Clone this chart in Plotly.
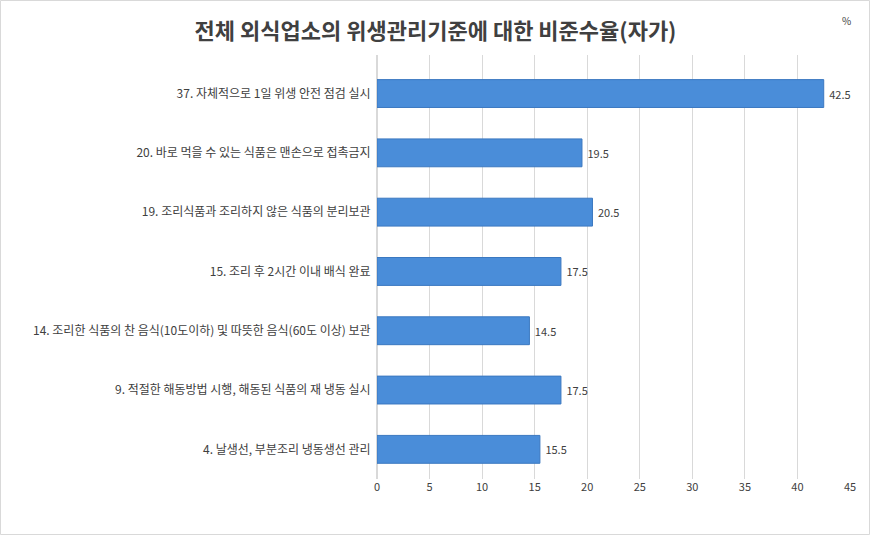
import plotly.graph_objects as go

categories = [
    "37. 자체적으로 1일 위생 안전 점검 실시",
    "20. 바로 먹을 수 있는 식품은 맨손으로 접촉금지",
    "19. 조리식품과 조리하지 않은 식품의 분리보관",
    "15. 조리 후 2시간 이내 배식 완료",
    "14. 조리한 식품의 찬 음식(10도이하) 및 따뜻한 음식(60도 이상) 보관",
    "9. 적절한 해동방법 시행, 해동된 식품의 재 냉동 실시",
    "4. 날생선, 부분조리 냉동생선 관리",
]
values = [42.5, 19.5, 20.5, 17.5, 14.5, 17.5, 15.5]
x_ticks = [0, 5, 10, 15, 20, 25, 30, 35, 40, 45]
title = "전체 외식업소의 위생관리기준에 대한 비준수율(자가)"

W, H = 871, 536
ML, MR, MT, MB = 377, 21, 55, 57
FONT = "Noto Sans CJK KR"
TXT = "#404040"

fig = go.Figure()
fig.add_trace(go.Bar(
    y=categories, x=values, orientation="h",
    width=0.47,
    marker=dict(color="#4a8dd9", line=dict(color="#3b78c0", width=1)),
    text=[f" {v:g}" for v in values], textposition="outside",
    textfont=dict(family=FONT, size=11, color=TXT),
    cliponaxis=False,
))

pw = W - ML - MR
ph = H - MT - MB
fig.update_layout(
    width=W, height=H,
    margin=dict(l=ML, r=MR, t=MT, b=MB, pad=0),
    paper_bgcolor="white", plot_bgcolor="white",
    showlegend=False,
    font=dict(family=FONT, size=12, color=TXT),
    title=dict(text="<b>" + title + "</b>", x=0.5, xref="container", xanchor="center",
               y=1 - 31 / H, yanchor="middle",
               font=dict(family=FONT, size=22, color=TXT)),
    xaxis=dict(range=[0, 45], tickvals=x_ticks, showgrid=True, gridcolor="#d9d9d9",
               gridwidth=1, zeroline=True, zerolinecolor="#d9d9d9", showline=False,
               ticks="", tickfont=dict(family=FONT, size=11, color=TXT)),
    yaxis=dict(type="category", categoryorder="array", categoryarray=categories,
               range=[6.5, -0.65], showgrid=False, zeroline=False, ticks="",
               ticksuffix="  ", tickfont=dict(family=FONT, size=12, color=TXT)),
    annotations=[dict(text="%", xref="paper", yref="paper",
                      x=(846 - ML) / pw, y=1 + (MT - 20) / ph,
                      showarrow=False, xanchor="center", yanchor="middle",
                      font=dict(family=FONT, size=10, color=TXT))],
    shapes=[dict(type="rect", xref="paper", yref="paper",
                 x0=-(ML - 0.5) / pw, x1=1 + (MR - 1.5) / pw,
                 y0=-(MB - 1.5) / ph, y1=1 + (MT - 0.5) / ph,
                 line=dict(color="#d9d9d9", width=1), layer="below")],
)

fig.write_html("out.html")
